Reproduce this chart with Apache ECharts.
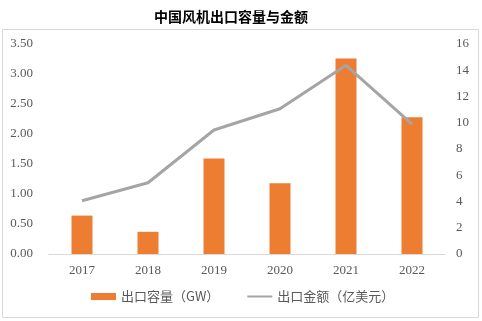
<!DOCTYPE html>
<html>
<head>
<meta charset="utf-8">
<script src="https://cdn.jsdelivr.net/npm/echarts@6/dist/echarts.min.js"></script>
<style>
  html, body { margin: 0; padding: 0; background: #ffffff; }
  #chart { width: 482px; height: 321px; }
</style>
</head>
<body>
<div id="chart"></div>
<script>
// 中国风机出口：容量（GW）与金额（亿美元）
const years = ['2017', '2018', '2019', '2020', '2021', '2022'];
const capacityGW = [0.64, 0.37, 1.59, 1.18, 3.26, 2.28];
const valueUSD100M = [4.06, 5.43, 9.45, 11.07, 14.38, 9.9];
const leftTicks = { min: 0, max: 3.5, interval: 0.5 };
const rightTicks = { min: 0, max: 16, interval: 2 };

const serif = '"Liberation Serif", "Times New Roman", serif';
const cjk = '"Noto Sans CJK SC", sans-serif';
const labelColor = '#595959';

const chart = echarts.init(document.getElementById('chart'), null, { renderer: 'canvas' });
chart.setOption({
  animation: false,
  backgroundColor: '#ffffff',
  title: {
    text: '中国风机出口容量与金额',
    left: 149,
    top: 5,
    textStyle: { fontFamily: cjk, fontSize: 14, fontWeight: 'bold', color: '#000000' }
  },
  graphic: [{
    type: 'rect',
    shape: { x: 2.5, y: 29.5, width: 476, height: 288 },
    style: { fill: 'none', stroke: '#d9d9d9', lineWidth: 1 },
    silent: true
  }],
  grid: { left: 49, right: 37, top: 44, bottom: 67, containLabel: false },
  legend: {
    bottom: 13,
    left: 86,
    itemGap: 27,
    itemWidth: 25,
    itemHeight: 7,
    textStyle: { fontFamily: cjk, fontSize: 13, color: labelColor },
    data: [
      { name: '出口容量（GW）', icon: 'rect' },
      { name: '出口金额（亿美元）', itemStyle: { opacity: 0 } }
    ]
  },
  xAxis: {
    type: 'category',
    data: years,
    axisLine: { lineStyle: { color: '#d9d9d9', width: 1 } },
    axisTick: { show: false },
    axisLabel: { fontFamily: serif, fontSize: 13, color: labelColor, margin: 10 }
  },
  yAxis: [
    {
      type: 'value',
      min: leftTicks.min, max: leftTicks.max, interval: leftTicks.interval,
      splitLine: { show: false },
      axisLine: { show: false },
      axisTick: { show: false },
      axisLabel: {
        fontFamily: serif, fontSize: 13, color: labelColor, margin: 16,
        formatter: v => v.toFixed(2)
      }
    },
    {
      type: 'value',
      min: rightTicks.min, max: rightTicks.max, interval: rightTicks.interval,
      splitLine: { show: false },
      axisLine: { show: false },
      axisTick: { show: false },
      axisLabel: { fontFamily: serif, fontSize: 13, color: labelColor, margin: 11 }
    }
  ],
  series: [
    {
      name: '出口容量（GW）',
      type: 'bar',
      yAxisIndex: 0,
      data: capacityGW,
      barWidth: 21,
      itemStyle: { color: '#ed7d31' }
    },
    {
      name: '出口金额（亿美元）',
      type: 'line',
      yAxisIndex: 1,
      data: valueUSD100M,
      symbol: 'none',
      lineStyle: { color: '#a5a5a5', width: 3 },
      itemStyle: { color: '#a5a5a5' }
    }
  ]
});
</script>
</body>
</html>
